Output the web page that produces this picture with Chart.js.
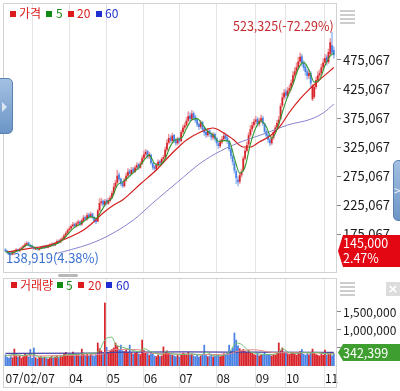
<!DOCTYPE html>
<html lang="ko">
<head>
<meta charset="utf-8">
<title>가격 / 거래량</title>
<script src="https://cdn.jsdelivr.net/npm/chart.js@4.4.1/dist/chart.umd.min.js"></script>
<style>
  html, body { margin: 0; padding: 0; background: #fff; }
  body { width: 400px; height: 391px; position: relative; overflow: hidden;
         font-family: 'Noto Sans CJK KR', 'Noto Sans', sans-serif; }
  canvas { position: absolute; left: 0; }
  #price { top: 0; }
  #volume { top: 276px; }
  .t { position: absolute; white-space: nowrap; font-size: 12px; line-height: 14px; }
  .sq { position: absolute; width: 6px; height: 6px; }
  .red { color: #dc1c1c; } .green { color: #138a13; } .blue { color: #1f2fcf; }
  .bred { background: #dc1c1c; } .bgreen { background: #138a13; } .bblue { background: #1f2fcf; }
  .box { position: absolute; left: 338px; width: 62px; color: #fff; font-size: 12.5px;
         padding-left: 5px; box-sizing: border-box;
         clip-path: polygon(5px 0, 100% 0, 100% 100%, 5px 100%, 0 50%); }
  .tab { position: absolute; border-radius: 5px; border: 1px solid #5a82b0;
         background: linear-gradient(#a3c0e2, #6c95c6); }
  .burger { position: absolute; width: 15px; height: 14px;
            background: repeating-linear-gradient(to bottom, #cdcdcd 0 2px, transparent 2px 4px); }
</style>
</head>
<body>
<canvas id="price" width="400" height="275"></canvas>
<canvas id="volume" width="400" height="115"></canvas>

<!-- price legend -->
<div class="sq bred" style="left:10px;top:11px"></div><div class="t red" style="left:19px;top:6px">가격</div>
<div class="sq bgreen" style="left:46px;top:11px"></div><div class="t green" style="left:56px;top:6px">5</div>
<div class="sq bred" style="left:68px;top:11px"></div><div class="t red" style="left:77px;top:6px">20</div>
<div class="sq bblue" style="left:96px;top:11px"></div><div class="t blue" style="left:105px;top:6px">60</div>

<!-- volume legend -->
<div class="sq bred" style="left:11px;top:282px"></div><div class="t red" style="left:20px;top:278px">거래량</div>
<div class="sq bgreen" style="left:57px;top:282px"></div><div class="t green" style="left:66px;top:278px">5</div>
<div class="sq bred" style="left:78px;top:282px"></div><div class="t red" style="left:88px;top:278px">20</div>
<div class="sq bblue" style="left:106px;top:282px"></div><div class="t blue" style="left:116px;top:278px">60</div>

<div class="t" style="left:233px;top:19px;font-size:12.5px;color:#c4282c">523,325(-72.29%)</div>
<div class="t" style="left:6px;top:250px;font-size:13px;line-height:16px;color:#3a6fd2">138,919(4.38%)</div>

<div class="box" style="top:235px;height:32px;background:#e30613;line-height:14.5px;padding-top:1px">145,000<br>2.47%</div>
<div class="box" style="top:344px;height:17px;background:#3f9e30;line-height:17px">342,399</div>

<div class="tab" style="left:-6px;top:78px;width:17px;height:54px"></div>
<div style="position:absolute;left:2px;top:102px;border-left:5px solid #dde6f1;border-top:5px solid transparent;border-bottom:5px solid transparent"></div>
<div class="tab" style="left:393px;top:160px;width:14px;height:59px"></div>
<div class="t" style="left:394px;top:183px;font-size:12px;color:#eef3f9">&gt;</div>

<div class="burger" style="left:340px;top:10px"></div>
<div class="burger" style="left:340px;top:282px"></div>
<div style="position:absolute;left:386px;top:282px;width:14px;height:14px;background:#dcdcdc;color:#fff;font:bold 13px/14px 'DejaVu Sans',sans-serif;text-align:center">×</div>
<div style="position:absolute;left:58px;top:274px;width:20px;height:3px;border-radius:2px;background:#b8b8b8"></div>

<script>
// daily candles, 2007-02-07 .. 2007-11-08, prices in thousand won
const X_TICKS = [0, 15, 36, 57, 78, 98, 119, 141, 158, 180];
const X_LABELS = ["07/02/07", "", "04", "05", "06", "07", "08", "09", "10", "11"];
const MONTH_START = [15, 36, 57, 78, 98, 119, 141, 158, 180];

const PRICE_TICKS = [175.067, 225.067, 275.067, 325.067, 375.067, 425.067, 475.067];
const VOL_TICKS = [500, 1000, 1500];

const OPEN = [
    148,146,143,142,140,143,146,148,146,149, 152,154,157,160,156,155,152,149,151,148,
    150,153,151,154,152,154,155,158,156,159, 163,161,165,167,173,177,182,185,189,192,
    189,194,196,192,198,204,201,208,205,210, 204,199,197,216,229,232,226,233,228,233,
    238,246,257,264,277,270,263,258,268,276, 284,279,287,283,290,295,290,297,306,313,
    318,309,311,297,291,288,294,300,297,305, 308,321,333,341,336,345,336,332,339,336,
    351,359,363,371,379,374,383,377,372,364, 360,368,357,351,346,353,348,342,347,340,
    331,327,334,339,345,341,335,322,309,298, 283,268,266,277,285,306,319,330,346,356,
    363,369,373,365,371,375,365,352,345,337, 332,341,351,359,367,374,397,411,420,414,
    423,427,436,449,456,463,473,481,470,463, 455,448,452,408,412,429,441,449,453,463,
    471,480,472,486,500,492
];
const CLOSE = [
    146,143,141,140,143,145,147,146,149,151, 154,157,159,156,154,152,150,151,149,150,
    152,151,153,152,154,155,157,156,159,162, 161,165,167,172,176,181,184,188,191,189,
    193,195,192,198,203,201,207,205,209,204, 198,196,215,228,230,226,231,228,233,237,
    245,256,263,275,270,262,258,268,275,282, 279,285,283,289,293,290,296,305,312,316,
    309,312,298,290,288,294,299,297,304,307, 320,332,340,336,344,336,332,338,335,350,
    358,362,370,378,374,382,376,371,364,360, 367,356,350,346,352,348,342,346,340,332,
    327,334,338,344,340,336,322,310,300,285, 272,265,276,282,305,318,328,345,355,362,
    368,372,365,370,374,366,352,345,338,332, 340,350,358,366,372,395,410,418,414,422,
    426,435,448,455,462,472,480,470,462,455, 448,452,435,430,428,440,448,452,462,470,
    478,472,488,505,488,484
];
const HIGH = [
    150,147,145,143,145,147,150,149,151,153, 156,160,162,161,157,156,153,153,152,152,
    154,155,155,156,156,158,160,160,161,165, 165,167,170,175,179,184,188,191,195,194,
    196,199,198,201,207,206,211,211,213,211, 205,201,218,236,237,234,235,236,237,241,
    249,262,268,285,281,272,265,271,280,288, 287,290,290,293,298,297,300,310,318,321,
    319,316,313,299,294,297,303,302,307,311, 325,338,347,345,349,347,339,342,342,354,
    363,367,376,386,384,388,386,380,374,367, 371,369,359,354,357,356,350,350,349,342,
    334,338,343,350,348,344,337,324,312,301, 286,274,280,287,309,323,333,350,362,368,
    373,378,376,375,380,378,367,355,348,340, 344,354,362,371,378,400,418,424,425,428,
    432,441,455,462,470,480,487,485,474,466, 459,458,455,433,431,446,455,458,468,477,
    485,484,494,512,523.325,498
];
const LOW = [
    144,141,139.5,138.919,139,142,145,144,145,148, 151,153,156,154,152,150,148,148,147,147,
    149,150,150,151,151,153,154,154,155,158, 159,160,164,166,171,175,180,183,187,186,
    187,191,189,190,196,198,199,202,203,201, 195,193,196,214,225,222,223,225,226,231,
    236,244,254,262,266,258,255,256,266,273, 275,277,280,281,287,286,288,295,303,309,
    305,305,295,286,284,285,291,293,295,302, 306,318,330,332,333,332,328,329,331,334,
    348,355,360,368,370,371,372,367,360,355, 357,352,345,341,343,343,337,338,335,327,
    322,324,331,336,336,331,318,305,294,280, 262,258,262,273,283,303,316,327,343,352,
    359,365,361,361,367,362,348,340,333,327, 329,338,348,356,364,372,394,407,409,411,
    418,423,433,445,452,459,469,465,457,449, 442,443,428,405,409,425,437,444,449,459,
    466,466,469,482,484,478
];
// volume, thousand shares
const VOLUME = [
    310,240,220,260,230,470,280,250,300,220, 260,330,300,250,460,210,500,230,200,240,
    260,220,250,210,190,230,270,220,250,280, 230,300,260,340,380,300,320,290,390,270,
    310,330,280,470,360,300,340,280,320,300, 270,310,640,480,420,380,1750,520,380,420,
    460,500,640,560,460,580,420,400,440,380, 580,360,330,360,400,340,320,720,430,380,
    360,300,380,350,280,260,300,260,280,530, 380,420,360,320,300,280,260,300,250,330,
    360,340,320,380,300,330,280,260,300,250, 280,310,580,300,260,280,300,250,280,320,
    300,260,280,340,300,360,580,420,500,917, 720,560,480,420,460,400,380,440,380,360,
    320,300,340,280,300,320,380,300,320,300, 280,320,300,360,640,420,500,380,360,340,
    320,360,380,340,300,360,400,460,330,300, 340,310,380,470,360,320,300,280,340,300,
    445,300,360,320,280,342.399
];

// moving average lines (day index, value)
const MA5_AT = [0,3,6,9,12,15,18,21,24,27,30,33,36,39,42,45,48,51,54,57,60,63,66,69,72,75,78,81,84,87,
    90,93,96,99,102,105,108,111,114,117,120,123,126,129,132,135,138,141,144,147,150,153,156,159,162,165,168,171,174,177,180,183,185];
const MA5 = [145,142,145,149,156,154,150,151,153,156,160,167,178,187,192,199,205,202,215,229,237,259,265,272,281,289,302,311,297,294,
    305,327,338,340,357,372,374,364,352,346,335,336,335,306,280,291,330,358,370,360,340,355,385,412,433,460,471,458,437,441,465,482,487];
const MA20_AT = [1,8,15,25,35,44,49,55,61,66,76,85,94,102,110,117,122,128,134,138,143,149,155,160,166,171,177,185];
const MA20 = [144,147.5,150.9,156,168.2,182,194,211.3,225,233.7,261.3,285.4,314.7,337.3,351,357.8,351,338.9,325.1,325.1,333.7,344,362,385,408,424,441,462];
const MA60_AT = [28,32,53,72,83,97,110,121,134,147,159,172,179,185];
const MA60 = [141,144,164.7,199,228.5,264.7,297.5,318,335.4,349,363,373,383.7,399];

const VMA5_AT = [0,5,10,15,20,30,35,40,45,50,53,56,60,62,66,70,75,78,82,88,90,95,100,105,110,113,118,123,127,130,133,137,142,148,153,156,160,165,168,172,175,180,185];
const VMA5 = [280,320,290,330,240,250,320,320,350,360,440,730,800,600,520,460,400,480,400,320,400,330,320,340,300,380,280,300,440,640,600,420,340,320,340,480,370,350,380,360,380,340,330];
const VMA20_AT = [0,20,40,55,57,65,76,78,90,110,126,130,140,150,155,165,175,185];
const VMA20 = [290,280,300,330,410,460,450,380,340,320,330,400,450,380,370,370,360,345];
const VMA60_AT = [0,50,60,100,140,185];
const VMA60 = [350,355,380,390,385,380];

const X_MIN = -1.4, X_MAX = 186.8;
const P_MIN = 107.83, P_MAX = 573.34;
const V_MAX = 2444;

Chart.defaults.font.family = "'Noto Sans CJK KR', 'Noto Sans', sans-serif";
Chart.defaults.font.size = 13;
Chart.defaults.color = "#1a1a1a";
Chart.defaults.animation = false;

const UP = "#d8252c", DOWN = "#4b82e4";
const UP_WICK = "#ee9ca0", DOWN_WICK = "#a6c0f2";
const isUp = CLOSE.map((c, i) => c >= OPEN[i]);

const pts = (at, vals) => at.map((x, k) => ({ x, y: vals[k] }));

function maLine(at, vals, color, width) {
    return {
        type: "line", data: pts(at, vals), borderColor: color, borderWidth: width,
        pointRadius: 0, cubicInterpolationMode: "monotone", order: 0
    };
}

// chart area border (top/left/right/bottom)
const framePlugin = {
    id: "frame",
    beforeDatasetsDraw(chart, args, opts) {
        const { ctx, chartArea: a } = chart;
        ctx.save();
        ctx.strokeStyle = "#d2d2d2";
        ctx.lineWidth = 1;
        ctx.strokeRect(a.left + 0.5, a.top + 0.5, a.right - a.left - 1, a.bottom - a.top - 1 + (opts.extra || 0));
        ctx.restore();
    }
};

function yAxis(min, max, ticks, size, fmt) {
    return {
        position: "right", min, max,
        border: { display: false },
        grid: { drawOnChartArea: false, tickLength: 4, color: "#8a8a8a" },
        ticks: { padding: 2, font: { size }, callback: fmt },
        afterBuildTicks: s => { s.ticks = ticks.map(v => ({ value: v })); },
        afterFit: s => { s.width = 63; s.paddingTop = 0; s.paddingBottom = 0; }
    };
}

new Chart(document.getElementById("price"), {
    type: "bar",
    data: {
        datasets: [
            maLine(MA5_AT, MA5, "#2f982f", 1.1),
            maLine(MA20_AT, MA20, "#d41c1c", 1.2),
            maLine(MA60_AT, MA60, "#8784cc", 1),
            {
                data: OPEN.map((o, i) => ({ x: i, y: [o, CLOSE[i]] })),
                backgroundColor: isUp.map(u => u ? UP : DOWN),
                barThickness: 1.1, minBarLength: 1, grouped: false, order: 1
            },
            {
                data: OPEN.map((o, i) => ({ x: i, y: [LOW[i], HIGH[i]] })),
                backgroundColor: isUp.map(u => u ? UP_WICK : DOWN_WICK),
                barThickness: 1, grouped: false, order: 2
            }
        ]
    },
    options: {
        responsive: false,
        devicePixelRatio: 1,
        layout: { padding: { left: 3, top: 3, right: 0, bottom: 2 } },
        plugins: { legend: { display: false }, tooltip: { enabled: false }, frame: {} },
        scales: {
            x: {
                type: "linear", min: X_MIN, max: X_MAX, offset: false,
                border: { display: false },
                grid: { color: "#e4e4e4", drawTicks: false, offset: false },
                ticks: { display: false },
                afterBuildTicks: s => { s.ticks = MONTH_START.map(v => ({ value: v })); },
                afterFit: s => { s.height = 0; s.paddingLeft = 0; s.paddingRight = 0; }
            },
            y: yAxis(P_MIN, P_MAX, PRICE_TICKS, 13, v => Math.round(v * 1000).toLocaleString("en-US"))
        }
    },
    plugins: [framePlugin]
});

new Chart(document.getElementById("volume"), {
    type: "bar",
    data: {
        datasets: [
            maLine(VMA5_AT, VMA5, "#6fbf6f", 1),
            maLine(VMA20_AT, VMA20, "#e48a8a", 1),
            maLine(VMA60_AT, VMA60, "#4a44a6", 1.2),
            {
                data: VOLUME.map((v, i) => ({ x: i, y: v })),
                backgroundColor: isUp.map(u => u ? UP : DOWN),
                barThickness: 1.1, grouped: false, order: 1
            }
        ]
    },
    options: {
        responsive: false,
        devicePixelRatio: 1,
        layout: { padding: { left: 3, top: 2, right: 0, bottom: 0 } },
        plugins: { legend: { display: false }, tooltip: { enabled: false }, frame: { extra: 22 } },
        scales: {
            x: {
                type: "linear", min: X_MIN, max: X_MAX, offset: false,
                border: { display: false },
                grid: {
                    offset: false, tickLength: 22,
                    color: c => (c.tick && c.tick.value === 0) ? "rgba(0,0,0,0)" : "#e4e4e4"
                },
                ticks: {
                    align: "start", padding: -17, autoSkip: false, maxRotation: 0,
                    font: { size: 12 },
                    callback: v => X_LABELS[X_TICKS.indexOf(v)] || ""
                },
                afterBuildTicks: s => { s.ticks = X_TICKS.map(v => ({ value: v })); },
                afterFit: s => { s.height = 25; s.paddingLeft = 0; s.paddingRight = 0; }
            },
            y: yAxis(0, V_MAX, VOL_TICKS, 12, v => Math.round(v * 1000).toLocaleString("en-US"))
        }
    },
    plugins: [framePlugin]
});
</script>
</body>
</html>
